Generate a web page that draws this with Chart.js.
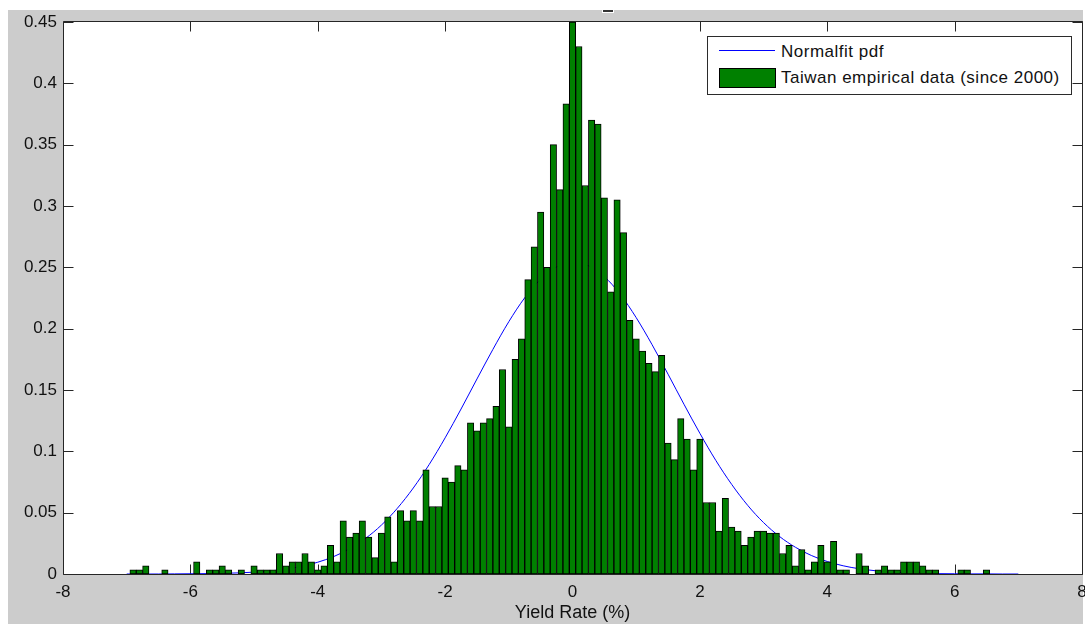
<!DOCTYPE html>
<html>
<head>
<meta charset="utf-8">
<script src="https://cdn.jsdelivr.net/npm/chart.js@4.4.1/dist/chart.umd.min.js"></script>
<style>
html,body{margin:0;padding:0;background:#ffffff;}
body{width:1085px;height:624px;position:relative;overflow:hidden;font-family:"Liberation Sans",Arial,sans-serif;}
#fig{position:absolute;left:8px;top:10px;width:1075px;height:614px;background:#cccccc;}
#mark{position:absolute;left:602px;top:9px;width:12px;height:4px;background:#ffffff;}
#mark div{position:absolute;left:1px;top:1px;width:10px;height:2px;background:#333333;}
#wrap{position:absolute;left:0;top:0;width:1085px;height:624px;}
#legend{position:absolute;left:707px;top:36px;width:363px;height:57px;background:#ffffff;border:1px solid #2b2b2b;}
#legend .ln{position:absolute;left:11px;top:13px;width:56px;height:1px;background:#0000ff;}
#legend .bx{position:absolute;left:11px;top:31px;width:57px;height:20px;box-sizing:border-box;background:#008000;border:1px solid #000000;}
#legend .tx{position:absolute;left:73px;height:20px;line-height:20px;font-size:17px;letter-spacing:0.5px;color:#111111;white-space:nowrap;}
</style>
</head>
<body>
<div id="fig"></div>
<div id="mark"><div></div></div>
<div id="wrap"><canvas id="c" width="1085" height="624"></canvas></div>
<div id="legend">
  <div class="ln"></div><div class="tx" style="top:5px">Normalfit pdf</div>
  <div class="bx"></div><div class="tx" style="top:31px">Taiwan empirical data (since 2000)</div>
</div>
<script>
// Histogram bin centres (%)
const binCenters = [
 -7.0,-6.9,-6.8,-6.7,-6.6,-6.5,-6.4,-6.3,-6.2,-6.1,
 -6.0,-5.9,-5.8,-5.7,-5.6,-5.5,-5.4,-5.3,-5.2,-5.1,
 -5.0,-4.9,-4.8,-4.7,-4.6,-4.5,-4.4,-4.3,-4.2,-4.1,
 -4.0,-3.9,-3.8,-3.7,-3.6,-3.5,-3.4,-3.3,-3.2,-3.1,
 -3.0,-2.9,-2.8,-2.7,-2.6,-2.5,-2.4,-2.3,-2.2,-2.1,
 -2.0,-1.9,-1.8,-1.7,-1.6,-1.5,-1.4,-1.3,-1.2,-1.1,
 -1.0,-0.9,-0.8,-0.7,-0.6,-0.5,-0.4,-0.3,-0.2,-0.1,
  0.0, 0.1, 0.2, 0.3, 0.4, 0.5, 0.6, 0.7, 0.8, 0.9,
  1.0, 1.1, 1.2, 1.3, 1.4, 1.5, 1.6, 1.7, 1.8, 1.9,
  2.0, 2.1, 2.2, 2.3, 2.4, 2.5, 2.6, 2.7, 2.8, 2.9,
  3.0, 3.1, 3.2, 3.3, 3.4, 3.5, 3.6, 3.7, 3.8, 3.9,
  4.0, 4.1, 4.2, 4.3, 4.4, 4.5, 4.6, 4.7, 4.8, 4.9,
  5.0, 5.1, 5.2, 5.3, 5.4, 5.5, 5.6, 5.7, 5.8, 5.9,
  6.0, 6.1, 6.2, 6.3, 6.4, 6.5, 6.6, 6.7, 6.8, 6.9,
  7.0
];
// Empirical density per bin (Taiwan, since 2000)
const density = [
 0,      0.0033, 0.0033, 0.0067, 0,      0,      0.0033, 0,      0,      0,
 0,      0.0100, 0,      0.0033, 0.0033, 0.0067, 0.0033, 0,      0.0033, 0,
 0.0067, 0.0033, 0.0033, 0.0033, 0.0167, 0.0067, 0.0100, 0.0100, 0.0167, 0.0100,
 0.0033, 0.0067, 0.0233, 0.0100, 0.0433, 0.0300, 0.0333, 0.0433, 0.0300, 0.0133,
 0.0333, 0.0467, 0.0100, 0.0517, 0.0433, 0.0517, 0.0433, 0.0850, 0.0550, 0.0550,
 0.0783, 0.0750, 0.0883, 0.0850, 0.1233, 0.1167, 0.1233, 0.1267, 0.1367, 0.1667,
 0.1200, 0.1750, 0.1917, 0.2400, 0.2667, 0.2950, 0.2500, 0.3500, 0.3133, 0.3833,
 0.4500, 0.4300, 0.3167, 0.3700, 0.3667, 0.3067, 0.2300, 0.3050, 0.2783, 0.2067,
 0.1917, 0.1817, 0.1717, 0.1650, 0.1783, 0.1067, 0.0933, 0.1267, 0.1100, 0.0850,
 0.1100, 0.0583, 0.0583, 0.0350, 0.0617, 0.0383, 0.0350, 0.0233, 0.0300, 0.0350,
 0.0350, 0.0333, 0.0333, 0.0167, 0.0233, 0.0067, 0.0200, 0.0033, 0.0100, 0.0233,
 0.0100, 0.0267, 0.0033, 0.0033, 0,      0.0167, 0.0067, 0,      0.0033, 0.0067,
 0.0033, 0.0033, 0.0100, 0.0100, 0.0100, 0.0067, 0.0033, 0.0033, 0,      0,
 0,      0.0033, 0.0033, 0,      0,      0.0033, 0,      0,      0,      0,
 0
];
// Normal-fit pdf
const pdfX = [
 -7,-6.75,-6.5,-6.25,-6,-5.75,-5.5,-5.25,-5,-4.75,-4.5,-4.25,-4,-3.75,-3.5,-3.25,-3,-2.75,-2.5,-2.25,
 -2,-1.75,-1.5,-1.25,-1,-0.75,-0.5,-0.25,0,0.25,0.5,0.75,1,1.25,1.5,1.75,2,2.25,2.5,2.75,
 3,3.25,3.5,3.75,4,4.25,4.5,4.75,5,5.25,5.5,5.75,6,6.25,6.5,6.75,7
];
const pdfY = [
 0.0000,0.0000,0.0000,0.0001,0.0002,0.0003,0.0005,0.0009,0.0015,0.0025,0.0040,0.0063,0.0096,0.0142,0.0206,0.0290,0.0399,0.0536,0.0701,0.0893,
 0.1110,0.1345,0.1590,0.1831,0.2057,0.2252,0.2404,0.2503,0.2540,0.2513,0.2424,0.2280,0.2090,0.1869,0.1629,0.1384,0.1147,0.0926,0.0730,0.0560,
 0.0419,0.0306,0.0218,0.0151,0.0102,0.0067,0.0043,0.0027,0.0017,0.0010,0.0006,0.0003,0.0002,0.0001,0.0001,0.0000,0.0000
];
const xTicks = [-8,-6,-4,-2,0,2,4,6,8];
const xTickLabels = ['-8','-6','-4','-2','0','2','4','6','8'];
const yTicks = [0,0.05,0.1,0.15,0.2,0.25,0.3,0.35,0.4,0.45];
const yTickLabels = ['0','0.05','0.1','0.15','0.2','0.25','0.3','0.35','0.4','0.45'];
const xTitle = 'Yield Rate (%)';
const seriesNames = ['Taiwan empirical data (since 2000)','Normalfit pdf'];

const FONT = '"Liberation Sans", Arial, sans-serif';
const TXT = '#111111';

const framePlugin = {
  id: 'matlabFrame',
  beforeDraw(chart) {
    const {ctx, chartArea: a} = chart;
    ctx.save();
    ctx.fillStyle = '#ffffff';
    ctx.fillRect(a.left, a.top - 1, a.right - a.left + 1, a.bottom - a.top + 2);
    ctx.restore();
  },
  beforeDatasetsDraw(chart) {
    const {ctx, chartArea: a, scales} = chart;
    const x = scales.x, y = scales.y;
    const L = a.left + 0.5, R = a.right + 0.5, T = a.top - 0.5, B = a.bottom + 0.5;
    const len = 10;
    ctx.save();
    ctx.strokeStyle = '#262626';
    ctx.lineWidth = 1;
    ctx.beginPath();
    xTicks.forEach(v => {
      const px = Math.round(x.getPixelForValue(v)) + 0.5;
      ctx.moveTo(px, B); ctx.lineTo(px, B - len);
      ctx.moveTo(px, T); ctx.lineTo(px, T + len);
    });
    yTicks.forEach(v => {
      const py = Math.round(y.getPixelForValue(v)) + 0.5;
      ctx.moveTo(L, py); ctx.lineTo(L + len, py);
      ctx.moveTo(R, py); ctx.lineTo(R - len, py);
    });
    ctx.stroke();
    ctx.beginPath();
    ctx.rect(L, T, R - L, B - T);
    ctx.stroke();
    ctx.restore();
  }
};

new Chart(document.getElementById('c'), {
  type: 'bar',
  data: {
    datasets: [
      {
        type: 'bar',
        label: seriesNames[0],
        data: binCenters.map((c, i) => ({x: c, y: density[i]})),
        backgroundColor: '#008000',
        borderColor: '#000000',
        borderWidth: 1,
        borderSkipped: false,
        barPercentage: 1,
        categoryPercentage: 1
      },
      {
        type: 'line',
        label: seriesNames[1],
        data: pdfX.map((v, i) => ({x: v, y: pdfY[i]})),
        borderColor: '#0000ff',
        borderWidth: 1,
        pointRadius: 0,
        fill: false,
        cubicInterpolationMode: 'monotone'
      }
    ]
  },
  options: {
    responsive: false,
    animation: false,
    devicePixelRatio: 1,
    layout: {padding: {top: 22, right: 3, bottom: 0, left: 0}},
    plugins: {legend: {display: false}, tooltip: {enabled: false}},
    scales: {
      x: {
        type: 'linear',
        min: -8, max: 8,
        offset: false,
        grid: {display: false, drawTicks: false, offset: false},
        border: {display: false},
        afterBuildTicks: s => { s.ticks = xTicks.map(v => ({value: v})); },
        ticks: {
          autoSkip: false, maxRotation: 0, minRotation: 0,
          padding: 8,
          color: TXT,
          font: {family: FONT, size: 17},
          callback: (v, i) => xTickLabels[i]
        },
        title: {display: true, text: xTitle, color: TXT, font: {family: FONT, size: 18}, padding: {top: 0, bottom: 0}},
        afterFit: s => { s.height = 50; s.paddingLeft = 0; s.paddingRight = 0; }
      },
      y: {
        type: 'linear',
        min: 0, max: 0.45,
        grid: {display: false, drawTicks: false},
        border: {display: false},
        afterBuildTicks: s => { s.ticks = yTicks.map(v => ({value: v})); },
        ticks: {
          autoSkip: false,
          padding: 6,
          color: TXT,
          font: {family: FONT, size: 17},
          callback: (v, i) => yTickLabels[i]
        },
        afterFit: s => { s.width = 63; s.paddingTop = 0; s.paddingBottom = 0; }
      }
    }
  },
  plugins: [framePlugin]
});
</script>
</body>
</html>
